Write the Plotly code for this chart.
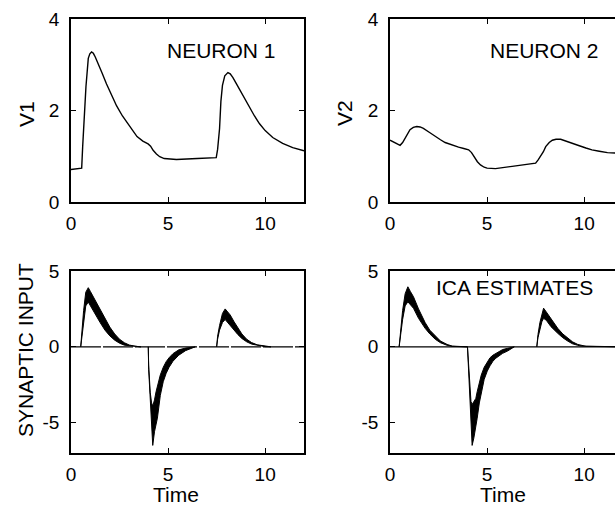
import plotly.graph_objects as go

# ---------------- data ----------------
v1_t = [0, 0.3, 0.55, 0.6, 0.67, 0.77, 0.89, 0.97, 1.06, 1.15, 1.25, 1.4, 1.6, 1.83, 2.1, 2.35,
        2.65, 2.95, 3.2, 3.4, 3.7, 3.97, 4.1, 4.23, 4.4, 4.57, 4.8, 5.0, 5.43, 6.5, 7.48, 7.55,
        7.65, 7.72, 7.8, 7.92, 8.08, 8.2, 8.34, 8.5, 8.68, 8.95, 9.2, 9.45, 9.71, 10.0, 10.39,
        10.9, 11.42, 12]
v1 = [0.71, 0.72, 0.74, 1.2, 1.9, 2.52, 3.14, 3.24, 3.28, 3.25, 3.17, 3.03, 2.82, 2.58, 2.32, 2.1,
      1.88, 1.7, 1.55, 1.43, 1.33, 1.27, 1.22, 1.13, 1.05, 0.99, 0.95, 0.94, 0.93, 0.95, 0.97, 1.15,
      1.6, 2.2, 2.55, 2.76, 2.83, 2.8, 2.72, 2.6, 2.46, 2.25, 2.06, 1.88, 1.71, 1.56, 1.41,
      1.28, 1.19, 1.12]

v2_t = [0, 0.52, 0.65, 0.78, 0.9, 1.03, 1.2, 1.38, 1.55, 1.72, 2.0, 2.33, 2.6, 2.84, 3.2, 3.53,
        3.8, 4.05, 4.2, 4.31, 4.5, 4.66, 4.85, 5.0, 5.43, 6.29, 7.0, 7.5, 7.63, 7.76, 7.9, 8.02,
        8.2, 8.36, 8.55, 8.79, 9.1, 9.4, 9.75, 10.09, 10.4, 10.78, 11.2, 11.64, 12]
v2 = [1.35, 1.24, 1.3, 1.4, 1.5, 1.58, 1.63, 1.65, 1.64, 1.61, 1.53, 1.43, 1.36, 1.30, 1.24, 1.20,
      1.17, 1.14, 1.08, 1.0, 0.88, 0.81, 0.76, 0.74, 0.73, 0.78, 0.82, 0.85, 0.92, 1.0, 1.1, 1.21,
      1.3, 1.35, 1.37, 1.37, 1.33, 1.29, 1.23, 1.18, 1.14, 1.11, 1.08, 1.07, 1.06]

# synaptic input (true) : upper / lower envelope of the noisy trace
syn_t = [0, 0.50, 0.55, 0.65, 0.76, 0.89, 1.0, 1.15, 1.3, 1.5, 1.75, 2.0, 2.25, 2.5, 2.75, 3.0, 3.3,
         3.6, 3.98, 4.0, 4.08, 4.15, 4.21, 4.3, 4.38, 4.45, 4.6, 4.75, 4.9, 5.05, 5.25, 5.55, 5.9,
         6.4, 7.5, 7.55, 7.65, 7.8, 7.94, 8.05, 8.2, 8.4, 8.6, 8.8, 9.05, 9.3, 9.6, 10.0, 10.3, 12]
syn_hi = [0, 0, 0.9, 2.4, 3.6, 3.9, 3.65, 3.3, 2.95, 2.45, 1.85, 1.3, 0.85, 0.5, 0.27, 0.12, 0.04,
          0, 0, -1.2, -3.0, -3.7, -3.9, -3.5, -2.96, -2.6, -1.85, -1.35, -0.98, -0.72, -0.45, -0.2, -0.08,
          0, 0, 0.7, 1.4, 2.2, 2.5, 2.35, 2.1, 1.65, 1.25, 0.85, 0.5, 0.28, 0.13, 0.04, 0, 0]
syn_lo = [0, 0, 0.5, 1.7, 2.7, 2.95, 2.8, 2.45, 2.05, 1.6, 1.1, 0.72, 0.44, 0.24, 0.11, 0.04, 0.01,
          0, 0, -1.5, -3.4, -5.0, -6.5, -5.6, -5.1, -4.7, -3.2, -2.3, -1.75, -1.35, -0.95, -0.55, -0.25,
          0, 0, 0.5, 1.1, 1.6, 1.8, 1.7, 1.44, 1.1, 0.8, 0.55, 0.33, 0.18, 0.08, 0.01, 0, 0]

# ICA estimates : upper / lower envelope
ica_t = [0, 0.47, 0.55, 0.65, 0.78, 0.92, 1.05, 1.21, 1.47, 1.81, 2.05, 2.33, 2.6, 2.94, 3.2,
         3.99, 4.03, 4.10, 4.17, 4.23, 4.32, 4.42, 4.49, 4.6, 4.7, 4.85, 5.01, 5.15, 5.3, 5.45,
         5.8, 6.05, 6.4, 7.56, 7.62, 7.72, 7.82, 7.91, 8.05, 8.29, 8.64, 8.9, 9.15, 9.4, 9.67, 9.84,
         10.1, 12]
ica_hi = [0, 0, 1.1, 2.4, 3.5, 3.96, 3.65, 3.3, 2.5, 1.6, 1.1, 0.7, 0.38, 0.16, 0.05,
          0, -1.0, -2.3, -3.6, -3.8, -3.6, -3.4, -2.96, -2.35, -1.86, -1.35, -0.98, -0.72, -0.55, -0.43,
          -0.18, -0.1, 0, 0, 0.8, 1.6, 2.2, 2.55, 2.3, 1.88, 1.22, 0.85, 0.56, 0.33, 0.16, 0.1,
          0.03, 0]
ica_lo = [0, 0, 0.8, 1.8, 2.7, 2.97, 2.8, 2.54, 1.88, 1.22, 0.85, 0.5, 0.27, 0.1, 0.03,
          0, -1.2, -2.8, -4.8, -6.5, -6.0, -5.3, -4.71, -3.7, -2.96, -2.15, -1.6, -1.25, -0.95, -0.75,
          -0.43, -0.28, 0, 0, 0.6, 1.2, 1.65, 1.88, 1.75, 1.33, 0.89, 0.6, 0.38, 0.2, 0.1, 0.05,
          0.01, 0]

base_t = [0, 12]
base_v = [0, 0]

x_ticks = [0, 5, 10]
v_ticks = [0, 2, 4]
syn_ticks = [-5, 0, 5]
syn_tick_text = ["-5", "0", "5"]

FONT = "Liberation Sans, Arial, Helvetica, sans-serif"


def band(t, hi, lo):
    """Closed polygons (one per pulse) between upper and lower envelope."""
    xs, ys = [], []
    n = len(t)
    i = 0
    while i < n:
        if hi[i] == 0 and lo[i] == 0:
            i += 1
            continue
        s = max(i - 1, 0)
        j = i
        while j < n and not (hi[j] == 0 and lo[j] == 0):
            j += 1
        e = min(j, n - 1)
        seg = list(range(s, e + 1))
        xs += [t[k] for k in seg] + [t[k] for k in reversed(seg)] + [None]
        ys += [hi[k] for k in seg] + [lo[k] for k in reversed(seg)] + [None]
        i = j
    return xs, ys


fig = go.Figure()

# top panels
fig.add_trace(go.Scatter(x=v1_t, y=v1, mode="lines", line=dict(color="black", width=1.4),
                         xaxis="x", yaxis="y", showlegend=False))
fig.add_trace(go.Scatter(x=v2_t, y=v2, mode="lines", line=dict(color="black", width=1.4),
                         xaxis="x2", yaxis="y2", showlegend=False))

# bottom-left: true synaptic input
fig.add_trace(go.Scatter(x=base_t, y=base_v, mode="lines",
                         line=dict(color="black", width=1.2, dash="30px,2px"),
                         xaxis="x3", yaxis="y3", showlegend=False))
bx, by = band(syn_t, syn_hi, syn_lo)
fig.add_trace(go.Scatter(x=bx, y=by, mode="lines", fill="toself", fillcolor="black",
                         line=dict(color="black", width=1), xaxis="x3", yaxis="y3",
                         showlegend=False))

# bottom-right: ICA estimates
fig.add_trace(go.Scatter(x=base_t, y=base_v, mode="lines",
                         line=dict(color="black", width=1.2),
                         xaxis="x4", yaxis="y4", showlegend=False))
bx, by = band(ica_t, ica_hi, ica_lo)
fig.add_trace(go.Scatter(x=bx, y=by, mode="lines", fill="toself", fillcolor="black",
                         line=dict(color="black", width=1), xaxis="x4", yaxis="y4",
                         showlegend=False))

W, H = 615, 507
XL = [71 / W, 304 / W]
XR = [390 / W, 1.0]
YT = [1 - 202 / H, 1 - 19 / H]
YB = [1 - 453 / H, 1 - 271 / H]


def xax(domain, rng, anchor):
    return dict(domain=domain, range=rng, anchor=anchor, showline=True, linecolor="black",
                linewidth=1.6, mirror="ticks", ticks="inside", ticklen=5, tickwidth=1,
                tickcolor="black", showgrid=False, zeroline=False, tickvals=x_ticks,
                automargin=False,
                tickfont=dict(size=19, color="black", family=FONT), ticklabelstandoff=3)


def yax(domain, rng, anchor, ticks, mirror, text=None):
    d = dict(domain=domain, range=rng, anchor=anchor, showline=True, linecolor="black",
             linewidth=1.6, mirror=mirror, ticks="inside", ticklen=5, tickwidth=1,
             tickcolor="black", showgrid=False, zeroline=False, tickvals=ticks,
             automargin=False,
             tickfont=dict(size=19, color="black", family=FONT), ticklabelstandoff=6)
    if text is not None:
        d["ticktext"] = text
    return d


RX = 225 / (233 / 12)

fig.update_layout(
    width=W, height=H, autosize=False,
    margin=dict(l=0, r=0, t=0, b=0, pad=0),
    paper_bgcolor="white", plot_bgcolor="white",
    font=dict(family=FONT, color="black"),
    xaxis=xax(XL, [0, 12], "y"),
    yaxis=yax(YT, [0, 4], "x", v_ticks, "ticks"),
    xaxis2=xax(XR, [0, RX], "y2"),
    yaxis2=yax(YT, [0, 4], "x2", v_ticks, False),
    xaxis3=xax(XL, [0, 12], "y3"),
    yaxis3=yax(YB, [-7, 5], "x3", syn_ticks, "ticks", syn_tick_text),
    xaxis4=xax(XR, [0, RX], "y4"),
    yaxis4=yax(YB, [-7, 5], "x4", syn_ticks, False, syn_tick_text),
)

ann = [
    ("NEURON 1", 221, 51, 0),
    ("NEURON 2", 544, 51, 0),
    ("ICA ESTIMATES", 514, 287, 0),
    ("V1", 26, 114, -90),
    ("V2", 344, 113, -90),
    ("SYNAPTIC INPUT", 25, 350, -90),
    ("Time", 176, 494, 0),
    ("Time", 503, 494, 0),
]
for txt, px, py, ang in ann:
    fig.add_annotation(text=txt, x=px / W, y=1 - py / H, xref="paper", yref="paper",
                       xanchor="center", yanchor="middle", showarrow=False, textangle=ang,
                       font=dict(size=21, color="black", family=FONT))

fig.write_html(
    "out.html",
    config={"displayModeBar": False},
    post_script="document.body.style.margin='0';document.body.style.overflow='hidden';",
)
